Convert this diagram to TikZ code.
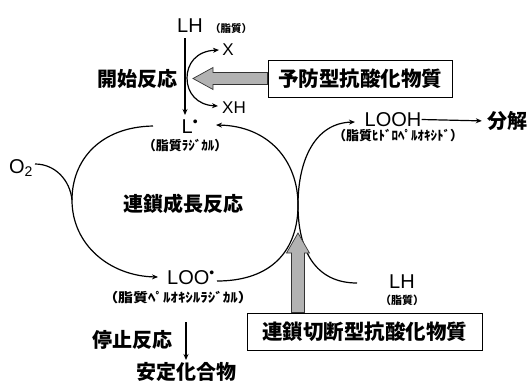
\documentclass[tikz,border=0pt]{standalone}
\usepackage{fontspec}
\setmainfont{Liberation Sans}
\newfontfamily\jp{Noto Sans CJK JP}
\usetikzlibrary{arrows.meta,calc}
\begin{document}
\begin{tikzpicture}[x=1pt,y=-1pt,
  lat/.style={font=\fontsize{20}{20}\selectfont, inner sep=0pt},
  latS/.style={font=\fontsize{17}{17}\selectfont, inner sep=0pt},
  jpL/.style={font=\jp\bfseries\fontsize{20}{20}\selectfont, inner sep=0pt},
  jpS/.style={font=\jp\bfseries\fontsize{13}{13}\selectfont, inner sep=0pt},
  ln/.style={line width=1.2pt},
  arr/.style={ln, -{Stealth[length=6pt,width=5pt]}},
  garrow/.style={draw=black!80, line width=0.7pt, fill=gray!60},
  boxst/.style={draw, line width=1pt, inner sep=0pt, font=\jp\bfseries\fontsize{20.5}{20.5}\selectfont}
]
\useasboundingbox (0,0) rectangle (532,381);

% ---- texts
\node[lat] (lh1) at (190,25.5) {LH};
\node[jpS, font=\jp\bfseries\fontsize{10.5}{10.5}\selectfont] (lh1p) at (231,29) {（脂質）};
\node[latS] (x) at (228,50) {X};
\node[latS] (xh) at (234,108) {XH};
\node[jpL] (kaishi) at (137,79) {開始反応};
\node[boxst, minimum width=184pt, minimum height=37pt] (pbox) at (360,78.5) {予防型抗酸化物質};

\node[lat] (L) at (190,126.5) {L\textsuperscript{•}};
\node[jpS] (Lp) at (185,146) {（脂質ﾗｼﾞｶﾙ）};
\node[lat] (o2) at (21,168) {O\textsubscript{2}};
\node[jpL] (rensa) at (183,204) {連鎖成長反応};

\node[lat] (loo) at (191,278) {LOO\textsuperscript{•}};
\node[jpS] (loop) at (178,298) {\scalebox{1.15}[1]{（脂質ﾍﾟﾙｵｷｼﾙﾗｼﾞｶﾙ）}};
\node[jpL] (teishi) at (132,340) {停止反応};
\node[jpL] (antei) at (186,372) {安定化合物};

\node[lat] (looh) at (393,119.5) {LOOH};
\node[jpS] (loohp) at (398,135.5) {（脂質ﾋﾄﾞﾛﾍﾟﾙｵｷｼﾄﾞ）};
\node[jpL] (bunkai) at (507,121) {分解};

\node[lat] (lh2) at (402,282) {LH};
\node[jpS, font=\jp\bfseries\fontsize{11}{11}\selectfont] (lh2p) at (402,300) {（脂質）};
\node[boxst, minimum width=235pt, minimum height=37pt] (cbox) at (364.5,331.5) {連鎖切断型抗酸化物質};

% ---- coordinates
\coordinate (lhTop) at (185,38);
\coordinate (lTop) at (185,115);
\coordinate (xA) at (219,50);
\coordinate (xB) at (187,78);
\coordinate (xC) at (218,106);
\coordinate (aS) at (153,126);
\coordinate (aM) at (72,200);
\coordinate (aE) at (158,277);
\coordinate (o2S) at (35,164);
\coordinate (bS) at (217,281);
\coordinate (tan) at (298,205);
\coordinate (bE) at (216,125);
\coordinate (cS) at (357,283);
\coordinate (cE) at (355,122);
\coordinate (stS) at (186,322);
\coordinate (stE) at (186,360);
\coordinate (ltip) at (193,78.5);
\coordinate (utip) at (298,233);

% ---- connectors
\draw[arr] (lhTop) -- (lTop);
\draw[ln, {Stealth[length=6pt,width=5pt]}-{Stealth[length=6pt,width=5pt]}]
  (xA) .. controls (196,51) and (187,64) .. (xB) .. controls (187,93) and (197,105) .. (xC);
\draw[arr] (aS) .. controls (100,127) and (72,160) .. (aM) .. controls (72,245) and (110,276) .. (aE);
\draw[ln] (o2S) .. controls (55,164) and (70,180) .. (aM);
\draw[arr] (bS) .. controls (272,281) and (298,250) .. (tan) .. controls (298,160) and (268,126) .. (bE);
\draw[arr] (cS) .. controls (315,283) and (298,250) .. (tan) .. controls (298,160) and (315,123) .. (cE);
\draw[arr, shorten >=5pt] (looh.east) -- (bunkai.west);
\draw[arr] (stS) -- (stE);

% ---- gray block arrows
\draw[garrow] ($(pbox.west)+(0,-6)$) -- ($(ltip)+(20,-6)$) -- ($(ltip)+(20,-11)$) -- (ltip)
  -- ($(ltip)+(20,11)$) -- ($(ltip)+(20,6)$) -- ($(pbox.west)+(0,6)$) -- cycle;
\draw[garrow] ($(utip |- cbox.north)+(-6.5,0)$) -- ($(utip)+(-6.5,20)$) -- ($(utip)+(-11.5,20)$) -- (utip)
  -- ($(utip)+(11.5,20)$) -- ($(utip)+(6.5,20)$) -- ($(utip |- cbox.north)+(6.5,0)$) -- cycle;
\end{tikzpicture}
\end{document}
